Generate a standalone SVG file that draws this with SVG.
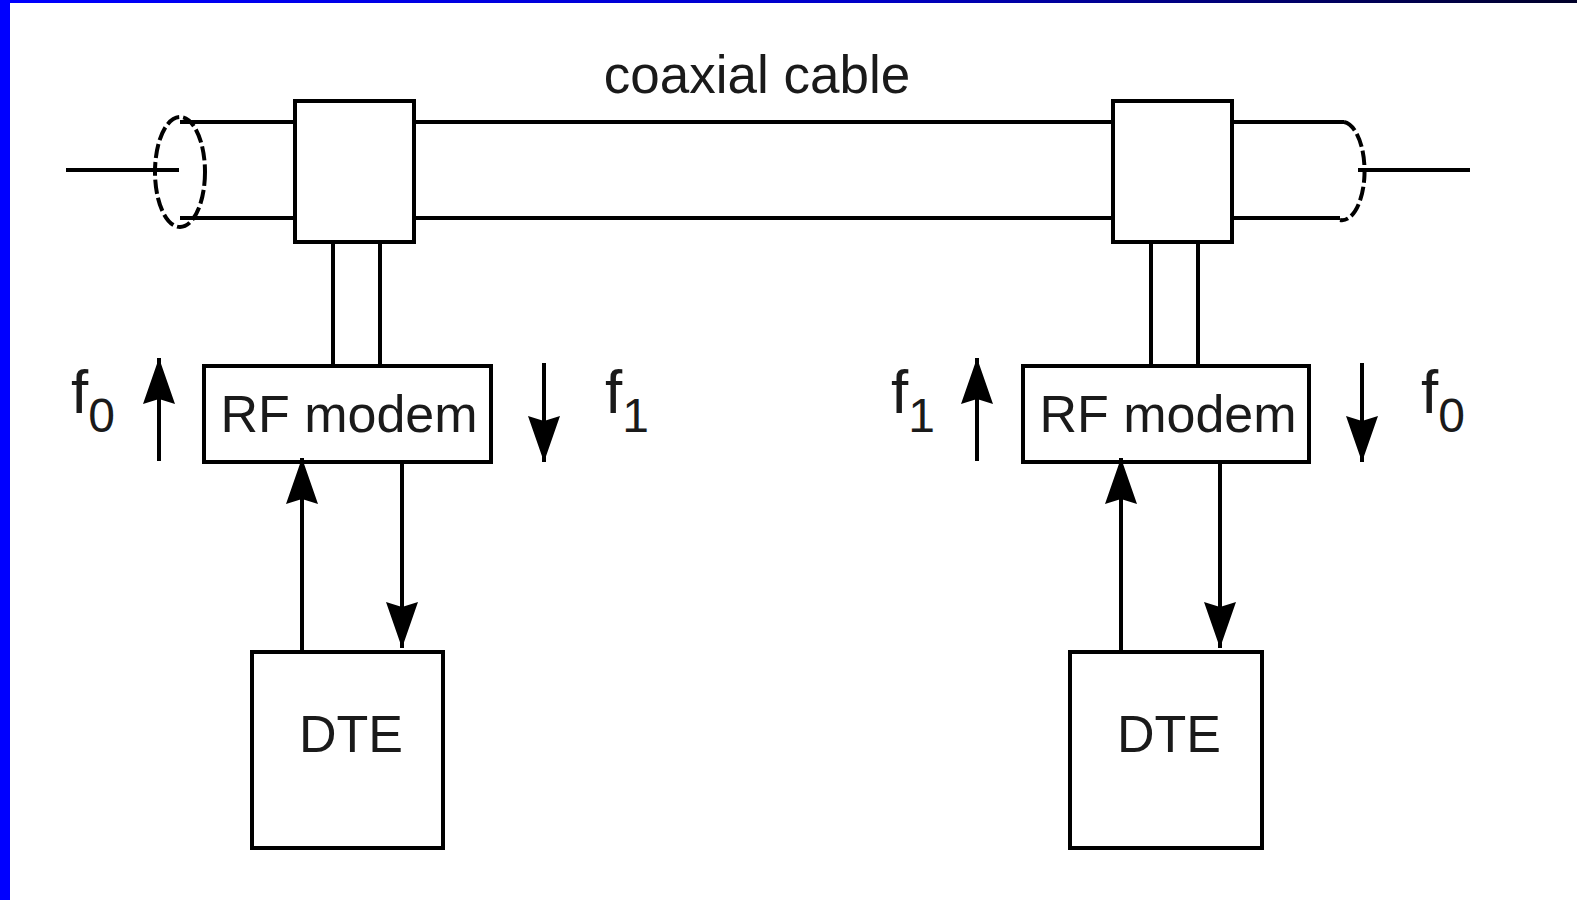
<svg xmlns="http://www.w3.org/2000/svg" width="1577" height="900" viewBox="0 0 1577 900">
  <defs>
    <linearGradient id="topbar" x1="0" y1="0" x2="1" y2="0">
      <stop offset="0" stop-color="#0000FF"/>
      <stop offset="0.55" stop-color="#0000C8"/>
      <stop offset="1" stop-color="#000028"/>
    </linearGradient>
    <marker id="ah" markerUnits="userSpaceOnUse" markerWidth="48" markerHeight="36" viewBox="0 -17 48 34" refX="46" refY="0" orient="auto">
      <path d="M0,-16 L46,0 L0,16 L5,0 Z" fill="#000"/>
    </marker>
    <style>
      .ln{stroke:#000;stroke-width:4;fill:none}
      .bx{stroke:#000;stroke-width:4;fill:#fff}
      .dash{stroke:#000;stroke-width:4;fill:none;stroke-dasharray:14 4}
      .lbl{font-family:"Liberation Sans",Arial,sans-serif;fill:#1a1a1a}
      .arr{stroke:#000;stroke-width:4;fill:none;marker-end:url(#ah)}
    </style>
  </defs>
  <rect x="0" y="0" width="1577" height="900" fill="#fff"/>
  <rect x="0" y="0" width="1577" height="3" fill="url(#topbar)"/>
  <rect x="0" y="0" width="10" height="900" fill="#0000FF"/>

  <g id="cable">
    <line class="ln" x1="66" y1="170" x2="179" y2="170"/>
    <ellipse class="dash" cx="180" cy="172" rx="25" ry="55"/>
    <line class="ln" x1="180" y1="122" x2="295" y2="122"/>
    <line class="ln" x1="180" y1="218" x2="295" y2="218"/>
    <line class="ln" x1="415" y1="122" x2="1113" y2="122"/>
    <line class="ln" x1="415" y1="218" x2="1113" y2="218"/>
    <line class="ln" x1="1232" y1="122" x2="1344" y2="122"/>
    <line class="ln" x1="1232" y1="218" x2="1340" y2="218"/>
    <path class="dash" d="M1344,122 A22,48 0 0 1 1340,220"/>
    <line class="ln" x1="1358" y1="170" x2="1470" y2="170"/>
    <text class="lbl" x="757" y="93" font-size="53" text-anchor="middle">coaxial cable</text>
  </g>

  <g id="tap-left">
    <rect class="bx" x="295" y="101" width="119" height="141"/>
  </g>
  <g id="tap-right">
    <rect class="bx" x="1113" y="101" width="119" height="141"/>
  </g>

  <g id="modem-left">
    <rect class="bx" x="204" y="366" width="287" height="96"/>
    <text class="lbl" x="349" y="432" font-size="52" text-anchor="middle">RF modem</text>
  </g>
  <g id="modem-right">
    <rect class="bx" x="1023" y="366" width="286" height="96"/>
    <text class="lbl" x="1168" y="432" font-size="52" text-anchor="middle">RF modem</text>
  </g>

  <g id="dte-left">
    <rect class="bx" x="252" y="652" width="191" height="196"/>
    <text class="lbl" x="351" y="752" font-size="52" text-anchor="middle">DTE</text>
  </g>
  <g id="dte-right">
    <rect class="bx" x="1070" y="652" width="192" height="196"/>
    <text class="lbl" x="1169" y="752" font-size="52" text-anchor="middle">DTE</text>
  </g>

  <g id="freq-labels">
    <text class="lbl" x="71" y="413" font-size="62">f<tspan font-size="48" dy="19">0</tspan></text>
    <text class="lbl" x="605" y="413" font-size="62">f<tspan font-size="48" dy="19">1</tspan></text>
    <text class="lbl" x="891" y="413" font-size="62">f<tspan font-size="48" dy="19">1</tspan></text>
    <text class="lbl" x="1421" y="413" font-size="62">f<tspan font-size="48" dy="19">0</tspan></text>
  </g>

  <g id="connectors">
    <line class="ln" x1="333" y1="243" x2="333" y2="366"/>
    <line class="ln" x1="380" y1="243" x2="380" y2="366"/>
    <line class="ln" x1="1151" y1="243" x2="1151" y2="366"/>
    <line class="ln" x1="1198" y1="243" x2="1198" y2="366"/>

    <line class="arr" x1="159" y1="461" x2="159" y2="358"/>
    <line class="arr" x1="544" y1="363" x2="544" y2="462"/>
    <line class="arr" x1="977" y1="461" x2="977" y2="358"/>
    <line class="arr" x1="1362" y1="363" x2="1362" y2="462"/>

    <line class="arr" x1="302" y1="650" x2="302" y2="458"/>
    <line class="arr" x1="402" y1="464" x2="402" y2="648"/>
    <line class="arr" x1="1121" y1="650" x2="1121" y2="458"/>
    <line class="arr" x1="1220" y1="464" x2="1220" y2="648"/>
  </g>
</svg>
